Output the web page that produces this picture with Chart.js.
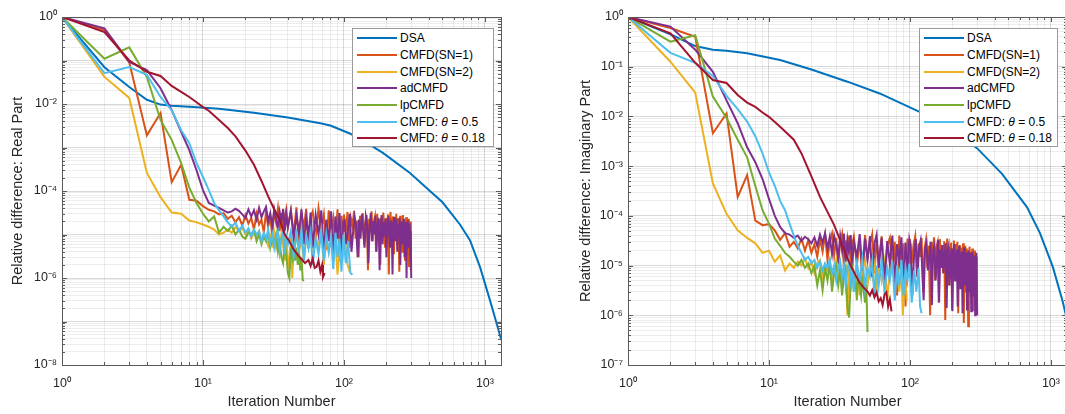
<!DOCTYPE html>
<html>
<head>
<meta charset="utf-8" />
<title>Relative difference</title>
<script src="https://cdn.jsdelivr.net/npm/chart.js@4.4.1/dist/chart.umd.min.js"></script>
<style>
  body { margin: 0; width: 1065px; height: 414px; overflow: hidden; background: #fff;
         font-family: 'Liberation Sans', Arial, sans-serif; }
  .panel { position: absolute; top: 0; }
  .legend { position: absolute; top: 28px; height: 119px; box-sizing: border-box;
            border: 1px solid #9a9a9a; background: #fff; padding-top: 1px; font-size: 12px; color: #000; }
  .legend div { display: flex; align-items: center; height: 16.67px; white-space: nowrap; }
  .legend .swatch { display: inline-block; width: 40px; height: 2px; margin: 0 3px 0 4px; }
</style>
</head>
<body>
<div class="panel" style="left:0"><canvas id="realChart" width="530" height="414"></canvas></div>
<div class="legend" id="realLegend" style="left:352px;width:142px"></div>
<div class="panel" style="left:568px"><canvas id="imagChart" width="528" height="414"></canvas></div>
<div class="legend" id="imagLegend" style="left:919px;width:139px"></div>
<script>
const names = ['DSA', 'CMFD(SN=1)', 'CMFD(SN=2)', 'adCMFD', 'lpCMFD', 'CMFD: θ = 0.5', 'CMFD: θ = 0.18'];
const colors = ['#0072BD', '#D95319', '#EDB120', '#7E2F8E', '#77AC30', '#4DBEEE', '#A2142F'];

const xRange = [1, 1300];
const realYRange = [1e-8, 1];
const imagYRange = [1e-7, 1];
const xLabelExps = [0, 1, 2, 3];
const realYLabelExps = [0, -2, -4, -6, -8];
const imagYLabelExps = [0, -1, -2, -3, -4, -5, -6, -7];

// ---- real part: [iteration, relative difference]
const realDSA = [[1,1],[2,0.07],[3,0.0245],[4,0.0125],[5,0.0097],[6,0.0091],[8,0.0086],[13,0.0078],[23,0.0063],[40,0.0049],[68,0.0036],[80,0.0032],[110,0.0021],[150,0.0012],[189,7.5e-4],[294,2.6e-4],[400,1.05e-4],[500,5.5e-5],[665,1.7e-5],[783,7.4e-6],[922,1.8e-6],[1085,3.1e-7],[1180,1.2e-7],[1300,4e-8]];
const realSN1 = [[1,1],[2,0.5],[3,0.09],[4,1.9e-3],[5,6.2e-3],[6,1.6e-4],[7,4e-4],[8,6.3e-5],[9,6e-5],[10,4.5e-5],[11,3.7e-5],[12,3.4e-5],[13,2.9e-5],[14,3.1e-5],[15,2.3e-5],[16,2.7e-5],[17,1.9e-5],[18,2.5e-5],[19,1.6e-5],[20,2.8e-5],[21,1.8e-5],[22,2.4e-5],[23,1.3e-5],[24,3.0e-5],[25,1.7e-5],[26,2.2e-5],[27,1.1e-5],[28,3.3e-5],[29,1.5e-5],[30,2.6e-5],[31,9e-6],[32,3.5e-5],[33,1.9e-5],[34,4.0e-5],[35,1.2e-5],[36,3.1e-5],[37,7e-6],[38,2.7e-5],[39,3.9e-5],[40,1.4e-5],[42,3.6e-5],[44,1.0e-5],[46,4.2e-5],[48,6e-6],[50,3.0e-5],[52,1.5e-5],[54,3.9e-5],[56,5e-6],[58,2.5e-5],[60,3.4e-5],[63,8e-6],[66,4.0e-5],[69,1.3e-5],[72,2.9e-5],[75,4.5e-6],[78,3.6e-5],[81,1.1e-5],[84,2.4e-5],[87,6e-6],[90,3.8e-5],[93,2.5e-6],[96,2.7e-5],[99,1.2e-5],
  [100,2.9e-5],[103,1.2e-5],[106,3.3e-5],[109,5e-6],[112,2.4e-5],[115,1.6e-5],[118,3.5e-5],[121,8e-6],[124,2.1e-5],[127,3e-6],[130,2.7e-5],[133,1.3e-5],[136,3.1e-5],[139,6e-6],[142,1.9e-5],[145,2.8e-5],[148,1.5e-6],[151,2.3e-5],[154,1.1e-5],[157,3.4e-5],[160,7e-6],[163,2.0e-5],[166,2.6e-5],[169,4e-6],[172,3.0e-5],[175,1.4e-5],[178,2.2e-5],[181,2e-6],[184,2.5e-5],[187,9e-6],[190,3.2e-5],[193,1.7e-5],[196,5e-6],[199,2.4e-5],[202,1.2e-5],[205,2.9e-5],[208,1.2e-6],[211,2.1e-5],[214,3.3e-5],[217,8e-6],[220,1.8e-5],[223,2.6e-5],[226,3.5e-6],[229,2.2e-5],[232,1.0e-5],[235,3.0e-5],[238,6e-6],[241,2.4e-5],[244,1.5e-5],[247,1.4e-6],[250,2.7e-5],[253,9e-6],[256,2.0e-5],[259,4e-6],[262,2.8e-5],[265,1.3e-5],[268,2.2e-5],[271,2.5e-6],[274,1.9e-5],[277,2.5e-5],[280,7e-6],[283,1.6e-5],[286,2.3e-5],[289,1.8e-6],[292,1.5e-5],[295,2.0e-5],[298,1.5e-6]];
const realSN2 = [[1,1],[2,0.042],[3,0.0138],[4,2.6e-4],[5,7.2e-5],[6,3.2e-5],[7,3.0e-5],[8,2.1e-5],[9,1.9e-5],[10,1.7e-5],[11,1.5e-5],[12,1.3e-5],[13,1.0e-5],[14,1.1e-5],[15,1.3e-5],[16,1.1e-5],[17,1.5e-5],[18,1.2e-5],[19,1.4e-5],[20,1.0e-5],[21,1.3e-5],[22,8e-6],[23,1.1e-5],[24,9e-6],[25,1.2e-5],[26,7e-6],[27,1.0e-5],[28,8e-6],[29,5.5e-6],[30,9e-6],[31,6e-6],[32,1.1e-5],[33,5e-6],[34,8e-6],[35,4e-6],[36,1.0e-5],[37,6e-6],[38,2.5e-6],[39,7e-6],[40,3e-6],[41,1.6e-6],[42,9e-6],[43,1.0e-6],[44,6e-6],[46,1.1e-5],[48,4e-6],[50,8e-6],[52,2.5e-6],[54,1.0e-5],[56,5e-6],[58,1.2e-5],[60,3e-6],[63,9e-6],[66,5e-6],[69,1.1e-5],[72,2e-6],[75,8e-6],[78,4e-6],[81,1.0e-5],[84,2.5e-6],[87,7e-6],[90,1.2e-6],[94,6e-6],[98,3e-6],[102,8e-6],[106,2e-6],[110,1.4e-6]];
const realAd = [[1,1],[2,0.55],[3,0.093],[4,0.06],[5,0.023],[6,7.2e-3],[7,2.3e-3],[8,8.7e-4],[9,3e-4],[10,1.05e-4],[11,5.3e-5],[12,4.6e-5],[13,4.1e-5],[14,3.6e-5],[15,3.2e-5],[16,3.4e-5],[17,3.9e-5],[18,3.5e-5],[19,2.9e-5],[20,2.4e-5],[21,3.8e-5],[22,2.6e-5],[23,3.6e-5],[24,2.2e-5],[25,4.1e-5],[26,2.5e-5],[27,3.4e-5],[28,4.3e-5],[29,2.0e-5],[30,3.1e-5],[31,1.6e-5],[32,3.7e-5],[33,2.3e-5],[34,1.4e-5],[35,3.3e-5],[36,1.9e-5],[37,3.9e-5],[38,1.2e-5],[39,2.9e-5],[40,1.5e-5],[42,3.5e-5],[44,8e-6],[46,2.7e-5],[48,1.1e-5],[50,3.8e-5],[52,6e-6],[54,2.4e-5],[56,9e-6],[58,3.2e-5],[60,5e-6],[63,2.8e-5],[66,1.0e-5],[69,3.6e-5],[72,4e-6],[75,2.2e-5],[78,7e-6],[81,3.4e-5],[84,3.5e-6],[87,2.6e-5],[90,8e-6],[93,3.1e-5],[96,3e-6],[99,2.0e-5],
  [101,2.1e-5],[104,6e-6],[107,1.4e-5],[110,3.0e-5],[113,4e-6],[116,1.1e-5],[119,2.5e-5],[122,1.6e-5],[125,3e-6],[128,2.2e-5],[131,8e-6],[134,2.9e-5],[137,1.2e-5],[140,5e-6],[143,2.6e-5],[146,1.8e-5],[149,2.2e-6],[152,1.5e-5],[155,3.1e-5],[158,7e-6],[161,2.0e-5],[164,1.0e-5],[167,2.7e-5],[170,4e-6],[173,1.7e-5],[176,2.4e-5],[179,1.5e-6],[182,1.3e-5],[185,2.8e-5],[188,6e-6],[191,1.9e-5],[194,9e-6],[197,2.3e-5],[200,3e-6],[203,1.4e-5],[206,2.6e-5],[209,1.1e-5],[212,5e-6],[215,2.1e-5],[218,1.6e-5],[221,1.2e-6],[224,1.8e-5],[227,2.5e-5],[230,7e-6],[233,1.3e-5],[236,2.2e-5],[239,4e-6],[242,1.7e-5],[245,9e-6],[248,2.4e-5],[251,2e-6],[254,1.5e-5],[257,2.0e-5],[260,6e-6],[263,1.1e-5],[266,2.3e-5],[269,3e-6],[272,1.6e-5],[275,1.9e-5],[278,1.0e-6],[281,1.4e-5],[284,2.1e-5],[287,5e-6],[290,1.2e-5],[293,1.8e-5],[296,2.5e-6],[298,1.2e-5],[300,1.0e-6]];
const realLp = [[1,1],[2,0.11],[3,0.2],[4,0.042],[5,4.3e-3],[6,1.5e-3],[7,4.4e-4],[8,1.2e-4],[9,5.3e-5],[10,3e-5],[11,2e-5],[12,2.6e-5],[13,1.1e-5],[14,1.5e-5],[15,1.2e-5],[16,1.6e-5],[17,1.0e-5],[18,1.3e-5],[19,9e-6],[20,8e-6],[21,1.1e-5],[22,1.0e-5],[23,1.3e-5],[24,7e-6],[25,1.0e-5],[26,6e-6],[27,9e-6],[28,7e-6],[29,1.1e-5],[30,5e-6],[31,8e-6],[32,6e-6],[33,1.0e-5],[34,4e-6],[35,7e-6],[36,3e-6],[37,2.2e-6],[38,6e-6],[39,3.5e-6],[40,1.3e-6],[41,1.0e-6],[42,5e-6],[43,3e-6],[44,7e-6],[45,2.5e-6],[46,5e-6],[47,2e-6],[48,4e-6],[49,1.5e-6],[50,3e-6],[51,9e-7],[52,8.5e-7]];
const realT05 = [[1,1],[2,0.051],[3,0.071],[4,0.047],[5,0.0145],[6,7.2e-3],[7,2.5e-3],[8,1.26e-3],[9,4.4e-4],[10,2.1e-4],[11,1.05e-4],[12,5.3e-5],[13,3.6e-5],[14,2.6e-5],[15,1.9e-5],[16,1.5e-5],[17,1.9e-5],[18,1.2e-5],[19,1.6e-5],[20,1.1e-5],[21,1.4e-5],[22,9e-6],[23,1.3e-5],[24,1.0e-5],[25,1.2e-5],[26,7e-6],[27,1.1e-5],[28,8e-6],[29,1.3e-5],[30,6e-6],[31,1.0e-5],[32,5e-6],[33,9e-6],[34,1.2e-5],[35,4e-6],[36,8e-6],[37,1.1e-5],[38,3.5e-6],[39,9e-6],[40,6e-6],[42,1.2e-5],[44,3e-6],[46,1.0e-5],[48,4.5e-6],[50,1.3e-5],[52,2.5e-6],[54,9e-6],[56,5e-6],[58,1.1e-5],[60,2e-6],[63,8e-6],[66,3.5e-6],[69,1.2e-5],[72,2.5e-6],[75,1.0e-5],[78,4e-6],[81,9e-6],[84,1.6e-6],[87,1.1e-5],[90,3e-6],[93,8e-6],[96,1.4e-6],[99,1.0e-5],[103,2.2e-6],[107,7e-6],[111,1.3e-6],[115,1.2e-6]];
const realT018 = [[1,1],[2,0.45],[3,0.1],[4,0.055],[5,0.044],[6,0.026],[7,0.019],[8,0.0145],[9,0.011],[10,8.5e-3],[11,7e-3],[13,4.3e-3],[15,2.8e-3],[17,1.8e-3],[20,8.5e-4],[23,4e-4],[26,1.7e-4],[29,7.5e-5],[32,3.8e-5],[35,2.2e-5],[38,1.0e-5],[41,7e-6],[44,4.5e-6],[47,3.4e-6],[50,2.7e-6],[53,2.2e-6],[56,2.6e-6],[58,1.9e-6],[60,2.8e-6],[62,1.7e-6],[64,1.8e-6],[66,2.5e-6],[68,1.4e-6],[70,2.0e-6],[71,1.05e-6],[73,1.3e-6]];

// ---- imaginary part
const imagDSA = [[1,1],[2,0.45],[3,0.26],[4,0.22],[5,0.21],[7,0.186],[12,0.136],[20,0.088],[36,0.05],[61,0.029],[117,0.0123],[200,5e-3],[299,2.3e-3],[450,7e-4],[676,1.5e-4],[836,4.5e-5],[1033,9.3e-6],[1217,1.8e-6],[1300,8e-7]];
const imagSN1 = [[1,1],[2,0.6],[3,0.4],[4,4.6e-3],[5,0.0115],[6,2.4e-4],[7,6.6e-4],[8,8e-5],[9,6.5e-5],[10,6.8e-5],[11,5.1e-5],[12,3.3e-5],[13,4.5e-5],[14,2.4e-5],[15,3.0e-5],[16,2.2e-5],[17,3.5e-5],[18,2.0e-5],[19,3.2e-5],[20,1.8e-5],[21,2.7e-5],[22,1.5e-5],[23,3.4e-5],[24,1.9e-5],[25,4.2e-5],[26,1.3e-5],[27,3.1e-5],[28,4.4e-5],[29,1.6e-5],[30,3.6e-5],[31,1.1e-5],[32,2.9e-5],[33,4.3e-5],[34,9e-6],[35,3.2e-5],[36,1.7e-5],[37,4.0e-5],[38,7e-6],[39,2.6e-5],[40,3.8e-5],[42,1.0e-5],[44,3.5e-5],[46,5e-6],[48,4.1e-5],[50,1.4e-5],[52,2.7e-5],[54,4.3e-5],[56,7e-6],[58,3.3e-5],[60,1.2e-5],[63,3.9e-5],[66,4e-6],[69,2.5e-5],[72,3.6e-5],[75,8e-6],[78,3.0e-5],[81,2.5e-6],[84,4.0e-5],[87,9e-6],[90,2.8e-5],[93,1.5e-6],[96,3.5e-5],[99,6e-6],
  [100,3.4e-5],[103,1.1e-5],[106,2.6e-5],[109,3.9e-5],[112,6e-6],[115,2.8e-5],[118,1.5e-5],[121,3.6e-5],[124,3e-6],[127,2.2e-5],[130,3.3e-5],[133,9e-6],[136,2.5e-5],[139,1.0e-6],[142,3.0e-5],[145,1.4e-5],[148,3.7e-5],[151,5e-6],[154,2.3e-5],[157,2.9e-5],[160,1.8e-6],[163,3.4e-5],[166,1.2e-5],[169,2.6e-5],[172,7e-6],[175,3.1e-5],[178,8e-7],[181,2.0e-5],[184,3.5e-5],[187,4e-6],[190,2.4e-5],[193,1.6e-5],[196,2.9e-5],[199,1.3e-6],[202,2.1e-5],[205,3.2e-5],[208,6e-6],[211,2.7e-5],[214,1.1e-5],[217,3.0e-5],[220,1.1e-6],[223,1.9e-5],[226,2.6e-5],[229,5e-6],[232,2.3e-5],[235,1.3e-5],[238,2.8e-5],[241,7e-7],[244,2.0e-5],[247,2.5e-5],[250,3e-6],[253,2.2e-5],[256,1.0e-5],[259,6e-7],[262,1.8e-5],[265,2.4e-5],[268,2.5e-6],[271,1.9e-5],[274,1.2e-5],[277,2.2e-5],[280,1.2e-6],[283,1.7e-5],[286,8e-6],[289,2.0e-5],[292,3.5e-6],[295,1.5e-5],[298,1.5e-6]];
const imagSN2 = [[1,1],[2,0.126],[3,0.03],[4,4.5e-4],[5,1.1e-4],[6,5.1e-5],[7,3.6e-5],[8,2.8e-5],[9,1.8e-5],[10,2.0e-5],[11,1.2e-5],[12,1.6e-5],[13,8e-6],[14,1.1e-5],[15,9e-6],[16,1.2e-5],[17,1.0e-5],[18,1.4e-5],[19,9e-6],[20,1.2e-5],[21,7e-6],[22,1.1e-5],[23,1.3e-5],[24,6e-6],[25,1.0e-5],[26,8e-6],[27,1.2e-5],[28,5e-6],[29,9e-6],[30,1.3e-5],[31,6e-6],[32,1.1e-5],[33,4e-6],[34,8e-6],[35,8e-6],[36,1.0e-6],[37,1.0e-5],[38,3e-6],[39,1.2e-5],[40,5e-6],[42,1.1e-5],[44,2.5e-6],[46,9e-6],[48,1.3e-5],[50,4e-6],[52,1.0e-5],[54,6e-6],[56,1.4e-5],[58,3e-6],[60,1.1e-5],[63,5e-6],[66,1.2e-5],[69,2e-6],[72,9e-6],[75,1.3e-5],[78,4e-6],[81,1.0e-5],[84,3e-6],[87,8e-6],[89,1.0e-6],[92,7e-6],[95,2e-6]];
const imagAd = [[1,1],[2,0.64],[3,0.22],[4,0.079],[5,0.021],[6,7.3e-3],[7,2.4e-3],[8,1.2e-3],[9,5.5e-4],[10,2.2e-4],[11,1.0e-4],[12,6e-5],[13,4.5e-5],[14,4.2e-5],[15,3.6e-5],[16,4.0e-5],[17,3.1e-5],[18,3.8e-5],[19,3.4e-5],[20,2.8e-5],[21,3.7e-5],[22,2.5e-5],[23,4.2e-5],[24,2.9e-5],[25,4.5e-5],[26,2.2e-5],[27,3.8e-5],[28,1.7e-5],[29,4.0e-5],[30,2.6e-5],[31,1.4e-5],[32,3.9e-5],[33,2.0e-5],[34,4.4e-5],[35,1.2e-5],[36,3.3e-5],[37,1.8e-5],[38,4.1e-5],[39,1.0e-5],[40,3.0e-5],[42,1.5e-5],[44,4.3e-5],[46,8e-6],[48,3.5e-5],[50,1.3e-5],[52,3.9e-5],[54,6e-6],[56,2.8e-5],[58,4.2e-5],[60,9e-6],[63,3.6e-5],[66,5e-6],[69,3.1e-5],[72,1.1e-5],[75,4.0e-5],[78,4e-6],[81,2.7e-5],[84,1.2e-5],[87,3.7e-5],[90,3.5e-6],[93,2.9e-5],[96,7e-6],[99,3.4e-5],
  [101,2.6e-5],[104,2.5e-6],[107,1.7e-5],[110,3.4e-5],[113,6e-6],[116,2.3e-5],[119,3.2e-5],[122,1.0e-5],[125,2e-6],[128,2.2e-5],[131,2.9e-5],[134,8e-6],[137,1.5e-5],[140,3.0e-5],[143,1.6e-6],[146,2.0e-5],[149,2.5e-5],[152,5e-6],[155,1.2e-5],[158,3.3e-5],[161,1.8e-6],[164,2.1e-5],[167,9e-6],[170,2.6e-5],[173,7e-6],[176,1.6e-5],[179,2.8e-5],[182,1.4e-6],[185,1.9e-5],[188,2.4e-5],[191,4e-6],[194,1.3e-5],[197,2.2e-5],[200,1.2e-6],[203,1.8e-5],[206,2.7e-5],[209,5e-6],[212,1.1e-5],[215,2.1e-5],[218,1.5e-6],[221,1.7e-5],[224,2.5e-5],[227,3.5e-6],[230,1.4e-5],[233,1.9e-5],[236,1.1e-6],[239,1.7e-5],[242,2.3e-5],[245,4e-6],[248,1.2e-5],[251,1.8e-5],[254,1.3e-6],[257,1.6e-5],[260,2.0e-5],[263,3e-6],[266,1.1e-5],[269,1.8e-5],[272,1.2e-6],[275,1.5e-5],[278,1.9e-5],[281,2.5e-6],[284,1.0e-5],[287,1.6e-5],[290,1.0e-6],[293,1.4e-5],[296,1.8e-5],[300,1e-6]];
const imagLp = [[1,1],[2,0.32],[3,0.43],[4,0.025],[5,9.3e-3],[6,3.4e-3],[7,1.5e-3],[8,4e-4],[9,1.3e-4],[10,7e-5],[11,3.5e-5],[12,2.5e-5],[13,1.8e-5],[14,1.5e-5],[15,1.2e-5],[16,1.0e-5],[17,1.3e-5],[18,9e-6],[19,1.1e-5],[20,7e-6],[21,1.0e-5],[22,4e-6],[23,8e-6],[24,3.2e-6],[25,9e-6],[26,5e-6],[27,1.1e-5],[28,3e-6],[29,7e-6],[30,1.0e-5],[31,4e-6],[32,8e-6],[33,2.5e-6],[34,6e-6],[35,9e-6],[36,1.5e-6],[37,9e-7],[38,5e-6],[39,8e-6],[40,3e-6],[41,6e-6],[42,2e-6],[43,7e-6],[44,4e-6],[45,2.5e-6],[46,6e-6],[47,3e-6],[48,1.8e-6],[49,4e-6],[50,4.6e-7]];
const imagT05 = [[1,1],[2,0.19],[3,0.12],[4,0.065],[5,0.026],[6,0.014],[7,7.9e-3],[8,4e-3],[9,1.8e-3],[10,7.5e-4],[11,4e-4],[12,2e-4],[13,1.3e-4],[14,7e-5],[15,4e-5],[16,2.5e-5],[17,1.8e-5],[18,1.3e-5],[19,1.5e-5],[20,1.1e-5],[21,1.3e-5],[22,9e-6],[23,1.2e-5],[24,8e-6],[25,1.1e-5],[26,9e-6],[27,1.3e-5],[28,7e-6],[29,1.0e-5],[30,5e-6],[31,9e-6],[32,1.2e-5],[33,6e-6],[34,1.0e-5],[35,4e-6],[36,8e-6],[37,1.3e-5],[38,5e-6],[39,9e-6],[40,3e-6],[42,1.1e-5],[44,5e-6],[46,1.4e-5],[48,3.5e-6],[50,9e-6],[52,6e-6],[54,1.2e-5],[56,2.5e-6],[58,1.0e-5],[60,4e-6],[63,1.3e-5],[66,3e-6],[69,9e-6],[72,5e-6],[75,1.2e-5],[78,2e-6],[81,1.0e-5],[84,4e-6],[87,1.3e-5],[90,2.5e-6],[93,9e-6],[96,5e-6],[99,1.1e-5],[103,1.8e-6],[107,8e-6],[111,3e-6],[115,9e-6],[118,1.5e-6],[121,1.1e-6]];
const imagT018 = [[1,1],[2,0.47],[3,0.12],[4,0.054],[5,0.047],[6,0.027],[7,0.019],[8,0.0155],[9,0.012],[10,9.8e-3],[12,6.2e-3],[15,3.4e-3],[17,1.8e-3],[20,6.2e-4],[23,2.4e-4],[26,1.2e-4],[29,6.5e-5],[32,3.2e-5],[35,1.7e-5],[38,1.0e-5],[41,6.5e-6],[44,4.5e-6],[47,3.6e-6],[50,3.0e-6],[52,2.5e-6],[54,3.2e-6],[56,2.3e-6],[58,2.9e-6],[60,1.9e-6],[62,2.2e-6],[64,1.6e-6],[66,2.6e-6],[68,2.9e-6],[70,1.5e-6],[72,2.1e-6],[74,1.2e-6]];

Chart.defaults.font.family = "'Liberation Sans', Arial, sans-serif";

const SUP = {'0':'⁰','1':'¹','2':'²','3':'³','4':'⁴','5':'⁵','6':'⁶','7':'⁷','8':'⁸','9':'⁹','-':'⁻'};
const TEXT = '#262626';

function isDecade(v) {
  const l = Math.log10(v);
  return Math.abs(l - Math.round(l)) < 1e-9;
}

function expLabel(v, exps) {
  if (!isDecade(v)) return '';
  const e = Math.round(Math.log10(v));
  if (!exps.includes(e)) return '';
  return '10' + String(e).split('').map(c => SUP[c]).join('');
}

// 1..9 x 10^k ticks, like matlab minor grid
function logTicks(min, max) {
  const out = [];
  for (let e = Math.floor(Math.log10(min)); e <= Math.ceil(Math.log10(max)); e++) {
    for (let m = 1; m <= 9; m++) {
      const v = parseFloat(m + 'e' + e);
      if (v >= min * 0.999999 && v <= max * 1.000001) out.push({value: v});
    }
  }
  return out;
}

function gridColor(ctx) {
  const v = ctx.tick && ctx.tick.value;
  return v && isDecade(v) ? 'rgba(0,0,0,0.15)' : 'rgba(0,0,0,0.07)';
}

// axes box with inward tick marks on all sides
const axesBox = {
  id: 'axesBox',
  afterDraw(chart) {
    const {ctx, chartArea: a, scales} = chart;
    ctx.save();
    ctx.strokeStyle = '#5a5a5a';
    ctx.lineWidth = 1;
    ctx.beginPath();
    scales.x.ticks.forEach(t => {
      const px = Math.round(scales.x.getPixelForValue(t.value)) + 0.5;
      const len = isDecade(t.value) ? 5 : 3;
      ctx.moveTo(px, a.bottom); ctx.lineTo(px, a.bottom - len);
      ctx.moveTo(px, a.top); ctx.lineTo(px, a.top + len);
    });
    scales.y.ticks.forEach(t => {
      const py = Math.round(scales.y.getPixelForValue(t.value)) + 0.5;
      const len = isDecade(t.value) ? 5 : 3;
      ctx.moveTo(a.left, py); ctx.lineTo(a.left + len, py);
      ctx.moveTo(a.right, py); ctx.lineTo(a.right - len, py);
    });
    ctx.stroke();
    ctx.strokeRect(Math.round(a.left) + 0.5, Math.round(a.top) + 0.5,
                   Math.round(a.right - a.left), Math.round(a.bottom - a.top));
    ctx.restore();
  }
};

function makeDatasets(series) {
  return series.map((pts, i) => ({
    label: names[i],
    data: pts.map(p => ({x: p[0], y: p[1]})),
    borderColor: colors[i],
    backgroundColor: colors[i],
    borderWidth: 2,
    pointRadius: 0,
    tension: 0,
    order: series.length - 1 - i
  }));
}

function makeChart(id, series, yRange, yExps, yTitle, yWidth) {
  return new Chart(document.getElementById(id), {
    type: 'line',
    data: {datasets: makeDatasets(series)},
    plugins: [axesBox],
    options: {
      responsive: false,
      animation: false,
      events: [],
      layout: {padding: {top: 17, right: 29, left: 0, bottom: 0}},
      plugins: {legend: {display: false}, tooltip: {enabled: false}},
      scales: {
        x: {
          type: 'logarithmic',
          min: xRange[0],
          max: xRange[1],
          afterBuildTicks: s => { s.ticks = logTicks(s.min, s.max); },
          afterFit: s => { s.height = 49; },
          ticks: {autoSkip: false, maxRotation: 0, padding: 11, color: TEXT, font: {size: 12.5},
                  callback: v => expLabel(v, xLabelExps)},
          grid: {drawTicks: false, color: gridColor},
          border: {display: false},
          title: {display: true, text: 'Iteration Number', color: TEXT, font: {size: 14.5},
                  padding: {top: 0, bottom: 3}}
        },
        y: {
          type: 'logarithmic',
          min: yRange[0],
          max: yRange[1],
          afterBuildTicks: s => { s.ticks = logTicks(s.min, s.max); },
          afterFit: s => { s.width = yWidth; },
          ticks: {autoSkip: false, padding: 5, color: TEXT, font: {size: 12.5},
                  callback: v => expLabel(v, yExps)},
          grid: {drawTicks: false, color: gridColor},
          border: {display: false},
          title: {display: true, text: yTitle, color: TEXT, font: {size: 14.5},
                  padding: {top: 9, bottom: 0}}
        }
      }
    }
  });
}

function buildLegend(id) {
  const box = document.getElementById(id);
  names.forEach((n, i) => {
    const row = document.createElement('div');
    const sw = document.createElement('span');
    sw.className = 'swatch';
    sw.style.background = colors[i];
    const txt = document.createElement('span');
    txt.innerHTML = n.replace('θ', '<i>θ</i>');
    row.append(sw, txt);
    box.append(row);
  });
}

makeChart('realChart', [realDSA, realSN1, realSN2, realAd, realLp, realT05, realT018],
          realYRange, realYLabelExps, 'Relative difference: Real Part', 62);
makeChart('imagChart', [imagDSA, imagSN1, imagSN2, imagAd, imagLp, imagT05, imagT018],
          imagYRange, imagYLabelExps, 'Relative difference: Imaginary Part', 60);
buildLegend('realLegend');
buildLegend('imagLegend');
</script>
</body>
</html>
